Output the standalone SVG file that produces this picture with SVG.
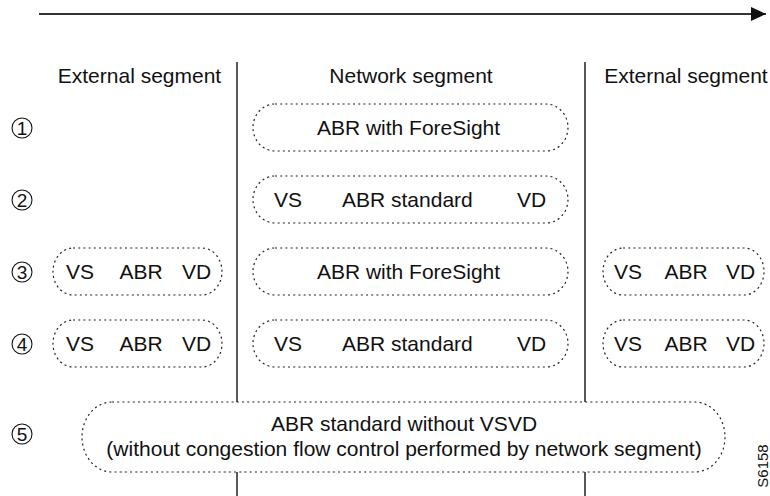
<svg xmlns="http://www.w3.org/2000/svg" width="770" height="496" viewBox="0 0 770 496">
<defs>
<style>
text{font-family:"Liberation Sans",Arial,sans-serif;font-size:21px;fill:#111}
.box{fill:none;stroke:#222;stroke-width:1.2;stroke-dasharray:2 3.2}
.num circle{fill:none;stroke:#111;stroke-width:1.1}
.num text{font-size:19px;text-anchor:middle}
.sep{stroke:#111;stroke-width:1.4}
.m{text-anchor:middle}
</style>
<marker id="ah" markerWidth="18" markerHeight="16" refX="15" refY="7" orient="auto" markerUnits="userSpaceOnUse">
<path d="M0,0 L15,7 L0,14 Z" fill="#111"/>
</marker>
</defs>
<rect width="770" height="496" fill="#fff"/>
<g id="connectors">
<line x1="39" y1="14" x2="766" y2="14" stroke="#333" stroke-width="2" marker-end="url(#ah)"/>
<line class="sep" x1="237" y1="62" x2="237" y2="402"/>
<line class="sep" x1="237" y1="472" x2="237" y2="496"/>
<line class="sep" x1="585" y1="62" x2="585" y2="402"/>
<line class="sep" x1="585" y1="472" x2="585" y2="496"/>
</g>
<g id="headers">
<text x="139.5" y="83" class="m">External segment</text>
<text x="411" y="83" class="m">Network segment</text>
<text x="686" y="83" class="m">External segment</text>
</g>
<g id="n1" class="num"><circle cx="22" cy="128" r="10"/><text x="22" y="134.8">1</text></g>
<g id="n2" class="num"><circle cx="22" cy="200" r="10"/><text x="22" y="206.8">2</text></g>
<g id="n3" class="num"><circle cx="22" cy="272" r="10"/><text x="22" y="278.8">3</text></g>
<g id="n4" class="num"><circle cx="22" cy="344" r="10"/><text x="22" y="350.8">4</text></g>
<g id="n5" class="num"><circle cx="22" cy="434" r="10"/><text x="22" y="440.8">5</text></g>
<g id="r1-net">
<rect class="box" x="253" y="104" width="315" height="47" rx="22" ry="23.5"/>
<text x="408.5" y="135" class="m">ABR with ForeSight</text>
</g>
<g id="r2-net">
<rect class="box" x="253" y="176" width="315" height="47" rx="22" ry="23.5"/>
<text x="274" y="207">VS</text>
<text x="342" y="207">ABR standard</text>
<text x="517" y="207">VD</text>
</g>
<g id="r3-left">
<rect class="box" x="53" y="248" width="169" height="47" rx="20" ry="23.5"/>
<text x="66" y="279">VS</text>
<text x="141" y="279" class="m">ABR</text>
<text x="182" y="279">VD</text>
</g>
<g id="r3-net">
<rect class="box" x="253" y="248" width="315" height="47" rx="22" ry="23.5"/>
<text x="408.5" y="279" class="m">ABR with ForeSight</text>
</g>
<g id="r3-right">
<rect class="box" x="603" y="248" width="161" height="47" rx="20" ry="23.5"/>
<text x="614" y="279">VS</text>
<text x="686" y="279" class="m">ABR</text>
<text x="726" y="279">VD</text>
</g>
<g id="r4-left">
<rect class="box" x="53" y="320" width="169" height="47" rx="20" ry="23.5"/>
<text x="66" y="351">VS</text>
<text x="141" y="351" class="m">ABR</text>
<text x="182" y="351">VD</text>
</g>
<g id="r4-net">
<rect class="box" x="253" y="320" width="315" height="47" rx="22" ry="23.5"/>
<text x="274" y="351">VS</text>
<text x="342" y="351">ABR standard</text>
<text x="517" y="351">VD</text>
</g>
<g id="r4-right">
<rect class="box" x="603" y="320" width="161" height="47" rx="20" ry="23.5"/>
<text x="614" y="351">VS</text>
<text x="686" y="351" class="m">ABR</text>
<text x="726" y="351">VD</text>
</g>
<g id="r5">
<rect class="box" x="82" y="402" width="643" height="70" rx="30" ry="35"/>
<text x="404" y="431" class="m">ABR standard without VSVD</text>
<text x="404" y="456" class="m">(without congestion flow control performed by network segment)</text>
</g>
<text x="0" y="0" transform="translate(768,466) rotate(-90)" class="m" style="font-size:15px">S6158</text>
</svg>
